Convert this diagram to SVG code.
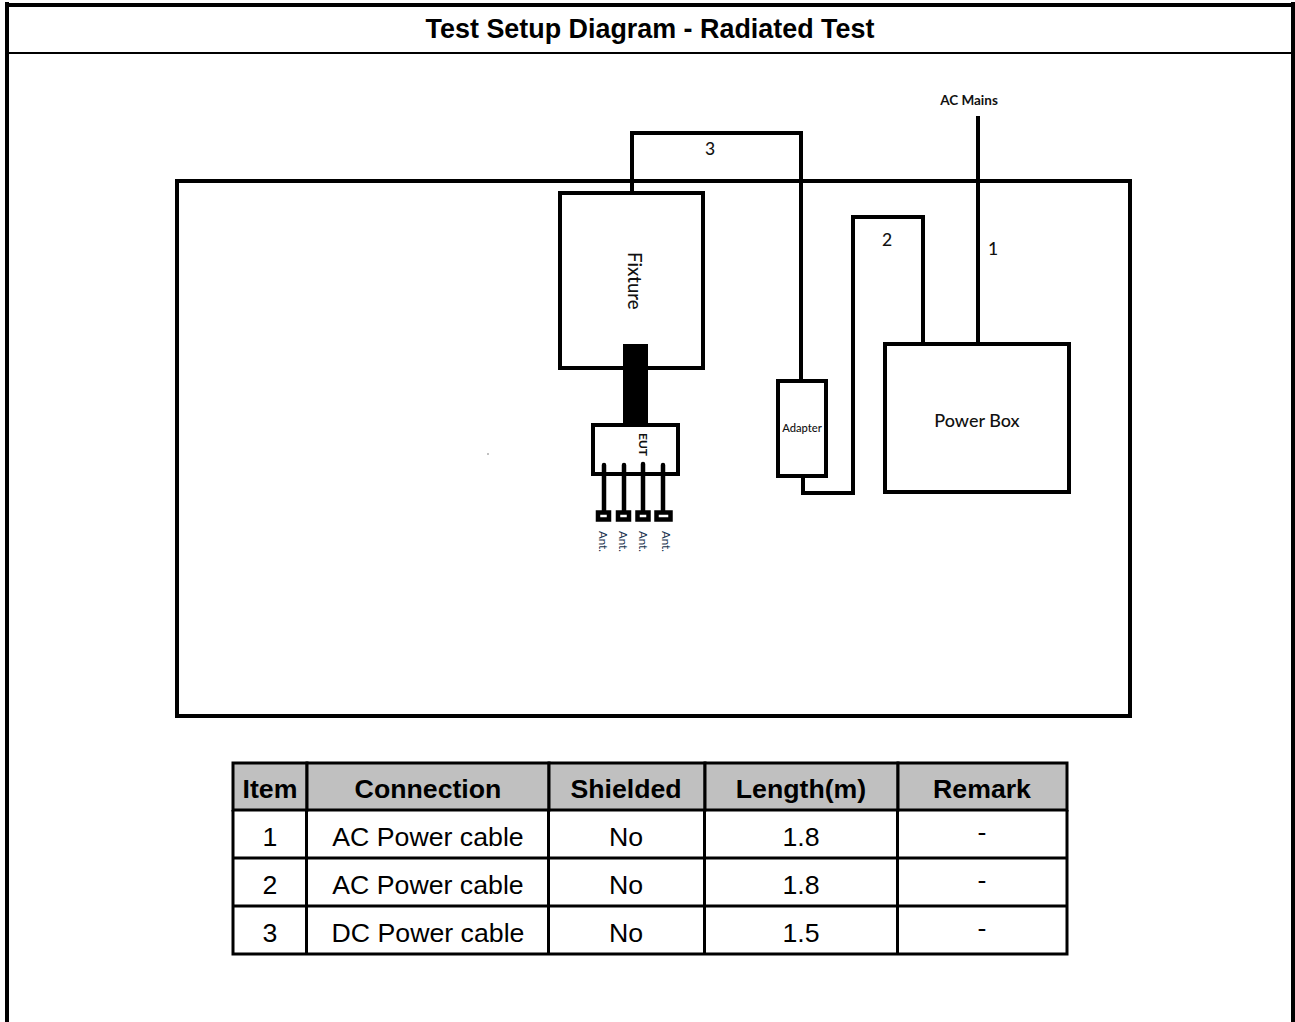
<svg xmlns="http://www.w3.org/2000/svg" width="1295" height="1022" viewBox="0 0 1295 1022">
<style>
.b{fill:none;stroke:#000;stroke-width:4}
.c{fill:none;stroke:#000;stroke-width:4}
.s{font-family:"Liberation Sans",Arial,sans-serif;fill:#000}
.o{font-family:Lato,"Open Sans",sans-serif;fill:#111}
.a{font-size:11.500px;fill:#17324d}
.n{font-size:17.500px;font-weight:500}
.h{font-size:26.700px;font-weight:bold;text-anchor:middle}
.t{font-size:26.700px;text-anchor:middle}
.g{stroke:#000;stroke-width:3;fill:#c0c0c0}
.p{fill:#fff;stroke:#000;stroke-width:4.500}
</style>
<rect width="1295" height="1022" fill="#fff"/>
<g id="frame">
<path d="M7 1022V2M1293 1022V2" fill="none" stroke="#000" stroke-width="4"/>
<path d="M5 5H1295" fill="none" stroke="#000" stroke-width="4"/>
<path d="M7 53H1293" fill="none" stroke="#000" stroke-width="2"/>
<text class="s" x="650" y="38" font-size="26.900" font-weight="bold" text-anchor="middle">Test Setup Diagram - Radiated Test</text>
</g>
<g id="table-area">
<rect x="177" y="181" width="953" height="535" class="b"/>
</g>
<g id="connectors">
<path class="c" d="M632 193V133H801V382"/>
<path class="c" d="M803 476V493H853V217H923V344"/>
<path class="c" d="M978 116V344"/>
<rect x="623" y="344" width="25" height="82" fill="#000"/>
<path d="M604 465V512M624 465V512M643 464V512M663 465V512" fill="none" stroke="#000" stroke-width="4.500" stroke-linecap="round"/>
</g>
<g id="fixture">
<rect x="560" y="193" width="143" height="175" class="b"/>
<text class="o" font-size="18.500" font-weight="500" transform="translate(628,252) rotate(90)">Fixture</text>
</g>
<g id="eut">
<rect x="593" y="425" width="85" height="49" class="b"/>
<text class="o" font-size="12" font-weight="bold" transform="translate(639,433) rotate(90)">EUT</text>
</g>
<g id="ant1"><rect x="598" y="512.500" width="11" height="7" class="p"/><text class="o a" transform="translate(599,531) rotate(90)">Ant.</text></g>
<g id="ant2"><rect x="618" y="512.500" width="11" height="7" class="p"/><text class="o a" transform="translate(619,531) rotate(90)">Ant.</text></g>
<g id="ant3"><rect x="637.500" y="512.500" width="11" height="7" class="p"/><text class="o a" transform="translate(639,531) rotate(90)">Ant.</text></g>
<g id="ant4"><rect x="656.500" y="512.500" width="14" height="7" class="p"/><text class="o a" transform="translate(662,531) rotate(90)">Ant.</text></g>
<g id="adapter">
<rect x="778" y="381" width="48" height="95" class="b"/>
<text class="o" font-size="11.200" font-weight="500" x="802" y="432" text-anchor="middle">Adapter</text>
</g>
<g id="power-box">
<rect x="885" y="344" width="184" height="148" class="b"/>
<text class="o" font-size="18" font-weight="500" x="977" y="427" text-anchor="middle">Power Box</text>
</g>
<g id="labels">
<text class="o" font-size="13.500" font-weight="bold" x="969" y="105" text-anchor="middle">AC Mains</text>
<text class="o n" x="710" y="155" text-anchor="middle">3</text>
<text class="o n" x="887" y="246" text-anchor="middle">2</text>
<text class="o n" x="993" y="255" text-anchor="middle">1</text>
<circle cx="488" cy="454" r="0.7" fill="#555"/>
</g>
<g id="table">
<rect x="233" y="763" width="74" height="47" class="g"/><rect x="307" y="763" width="242" height="47" class="g"/><rect x="549" y="763" width="156" height="47" class="g"/><rect x="705" y="763" width="193" height="47" class="g"/><rect x="898" y="763" width="169" height="47" class="g"/>
<path d="M233 810V954H1067V810M233 858H1067M233 906H1067M306.500 810V954M548.500 810V954M704.500 810V954M897.500 810V954" fill="none" stroke="#000" stroke-width="3"/>
<g class="s">
<text class="h" x="270" y="798">Item</text><text class="h" x="428" y="798">Connection</text><text class="h" x="626" y="798">Shielded</text><text class="h" x="801" y="798">Length(m)</text><text class="h" x="982" y="798">Remark</text>
<text class="t" x="270" y="846">1</text><text class="t" x="428" y="846">AC Power cable</text><text class="t" x="626" y="846">No</text><text class="t" x="801" y="846">1.8</text><text class="t" x="982" y="841">-</text>
<text class="t" x="270" y="894">2</text><text class="t" x="428" y="894">AC Power cable</text><text class="t" x="626" y="894">No</text><text class="t" x="801" y="894">1.8</text><text class="t" x="982" y="889">-</text>
<text class="t" x="270" y="942">3</text><text class="t" x="428" y="942">DC Power cable</text><text class="t" x="626" y="942">No</text><text class="t" x="801" y="942">1.5</text><text class="t" x="982" y="937">-</text>
</g>
</g>
</svg>
